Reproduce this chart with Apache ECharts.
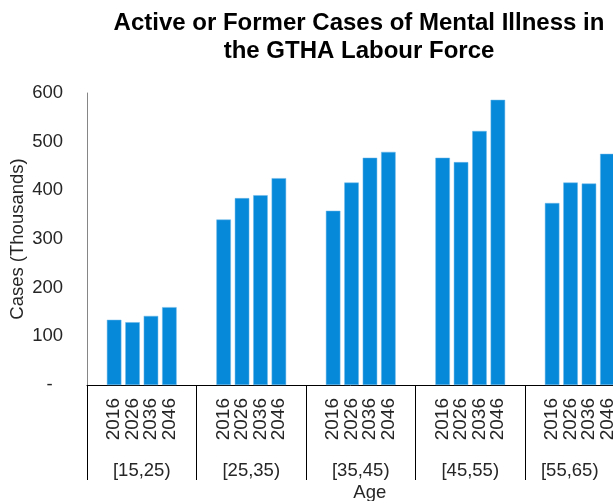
<!DOCTYPE html>
<html>
<head>
<meta charset="utf-8">
<script src="https://cdn.jsdelivr.net/npm/echarts@6/dist/echarts.min.js"></script>
<style>
html,body{margin:0;padding:0;background:#fff;}
#chart{width:613px;height:501px;}
</style>
</head>
<body>
<div id="chart"></div>
<script>
var ageGroups = ['[15,25)', '[25,35)', '[35,45)', '[45,55)', '[55,65)'];
var years = ['2016', '2026', '2036', '2046'];
var cases2016 = [134, 340, 358, 467, 374];
var cases2026 = [129, 384, 416, 458, 416];
var cases2036 = [142, 390, 467, 522, 414];
var cases2046 = [160, 425, 479, 586, 475];
var yTicks = [0, 100, 200, 300, 400, 500, 600];

var seriesValues = [cases2016, cases2026, cases2036, cases2046];
var FONT = 'Liberation Sans, Arial, sans-serif';
var TXT = '#262626';

var chart = echarts.init(document.getElementById('chart'), null, {renderer: 'canvas'});
chart.setOption({
  animation: false,
  backgroundColor: '#ffffff',
  title: {
    text: 'Active or Former Cases of Mental Illness in\nthe GTHA Labour Force',
    left: 359,
    top: 9,
    padding: 0,
    textAlign: 'center',
    textStyle: {fontFamily: FONT, fontSize: 24, fontWeight: 'bold', color: '#000', lineHeight: 28}
  },
  grid: {left: 87, top: 93, bottom: 116, right: -21.5, containLabel: false, outerBoundsMode: 'none'},
  xAxis: {
    type: 'category',
    data: ageGroups,
    name: 'Age',
    nameLocation: 'middle',
    nameGap: 98,
    nameMoveOverlap: false,
    nameTextStyle: {fontFamily: FONT, fontSize: 18.5, color: TXT, padding: [0, 0, 0, 18]},
    axisLine: {show: true, lineStyle: {color: '#000', width: 1}},
    axisTick: {show: true, length: 95, interval: 0, lineStyle: {color: '#000', width: 1}},
    axisLabel: {
      interval: 0, margin: 76, fontFamily: FONT, fontSize: 18.5, color: TXT,
      formatter: function (v, idx) {
        return idx === ageGroups.length - 1 ? '{last|' + v + '}' : v;
      },
      rich: {
        last: {fontFamily: FONT, fontSize: 18.5, color: TXT, padding: [0, 20, 0, 0]}
      }
    },
    splitLine: {show: false}
  },
  yAxis: {
    type: 'value',
    min: yTicks[0],
    max: yTicks[yTicks.length - 1],
    interval: yTicks[1] - yTicks[0],
    name: 'Cases (Thousands)',
    nameLocation: 'middle',
    nameGap: 60,
    nameMoveOverlap: false,
    nameTextStyle: {fontFamily: FONT, fontSize: 18.5, color: TXT},
    axisLine: {show: true, lineStyle: {color: '#868686', width: 1}},
    axisTick: {show: false},
    splitLine: {show: false},
    axisLabel: {
      margin: 24,
      fontFamily: FONT, fontSize: 18.5, color: TXT,
      formatter: function (v) { return v === 0 ? '-  ' : String(v); }
    }
  },
  series: years.map(function (y, i) {
    return {
      name: y,
      type: 'bar',
      data: seriesValues[i],
      barWidth: 14.5,
      barGap: '27%',
      itemStyle: {color: '#0789D9', borderColor: '#6EB8E8', borderWidth: 0.5},
      label: {
        show: true,
        formatter: '{a}',
        position: 'insideBottom',
        distance: -13,
        rotate: 90,
        align: 'right',
        verticalAlign: 'middle',
        fontFamily: FONT,
        fontSize: 19,
        color: TXT
      }
    };
  })
});
</script>
</body>
</html>
